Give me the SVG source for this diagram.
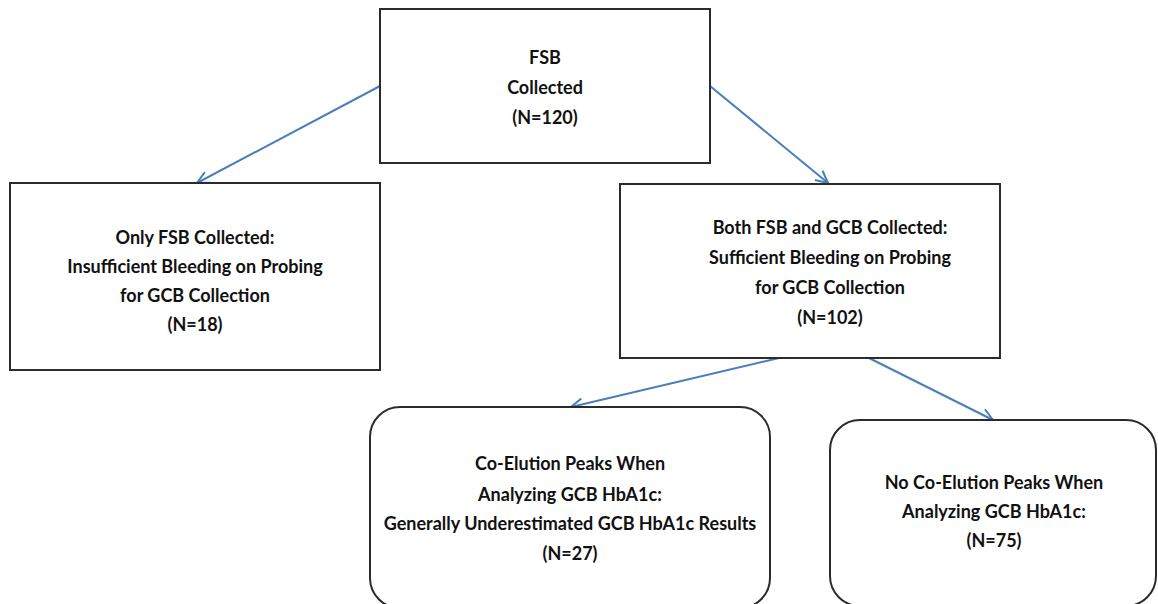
<svg xmlns="http://www.w3.org/2000/svg" width="1158" height="604" viewBox="0 0 1158 604">
<style>
.box{fill:#ffffff;stroke:#2b2b2b;stroke-width:2}
.t{font-family:Lato,"Liberation Sans",sans-serif;font-weight:bold;font-size:18px;fill:#111111;text-anchor:middle}
.c{fill:none;stroke:#4a7ebb;stroke-width:2}
</style>
<defs>
<marker id="arr" viewBox="0 0 14 14" refX="13" refY="7" markerWidth="14" markerHeight="14" orient="auto" markerUnits="userSpaceOnUse">
<path d="M1,1 L13,7 L1,13" fill="none" stroke="#4a7ebb" stroke-width="2"/>
</marker>
</defs>
<rect width="1158" height="604" fill="#ffffff"/>
<g id="connectors">
<line class="c" x1="380" y1="86" x2="197" y2="183" marker-end="url(#arr)"/>
<line class="c" x1="710" y1="86" x2="828" y2="183" marker-end="url(#arr)"/>
<line class="c" x1="779" y1="358" x2="571" y2="407" marker-end="url(#arr)"/>
<line class="c" x1="869" y1="358" x2="993" y2="420" marker-end="url(#arr)"/>
</g>
<g id="n1">
<rect class="box" x="380" y="9" width="330" height="154"/>
<text class="t" x="545" y="64">FSB</text>
<text class="t" x="545" y="94">Collected</text>
<text class="t" x="545" y="124">(N=120)</text>
</g>
<g id="n2">
<rect class="box" x="10" y="183" width="370" height="187"/>
<text class="t" x="195" y="244">Only FSB Collected:</text>
<text class="t" x="195" y="273">Insufficient Bleeding on Probing</text>
<text class="t" x="195" y="302">for GCB Collection</text>
<text class="t" x="195" y="331">(N=18)</text>
</g>
<g id="n3">
<rect class="box" x="620" y="184" width="380" height="174"/>
<text class="t" x="830" y="234">Both FSB and GCB Collected:</text>
<text class="t" x="830" y="264">Sufficient Bleeding on Probing</text>
<text class="t" x="830" y="294">for GCB Collection</text>
<text class="t" x="830" y="324">(N=102)</text>
</g>
<g id="n4">
<rect class="box" x="370" y="407" width="400" height="201" rx="30" ry="30"/>
<text class="t" x="570" y="470">Co-Elution Peaks When</text>
<text class="t" x="570" y="501">Analyzing GCB HbA1c:</text>
<text class="t" x="570" y="530">Generally Underestimated GCB HbA1c Results</text>
<text class="t" x="570" y="560">(N=27)</text>
</g>
<g id="n5">
<rect class="box" x="830" y="420" width="326" height="186" rx="30" ry="30"/>
<text class="t" x="994" y="489">No Co-Elution Peaks When</text>
<text class="t" x="994" y="518">Analyzing GCB HbA1c:</text>
<text class="t" x="994" y="547">(N=75)</text>
</g>
</svg>
